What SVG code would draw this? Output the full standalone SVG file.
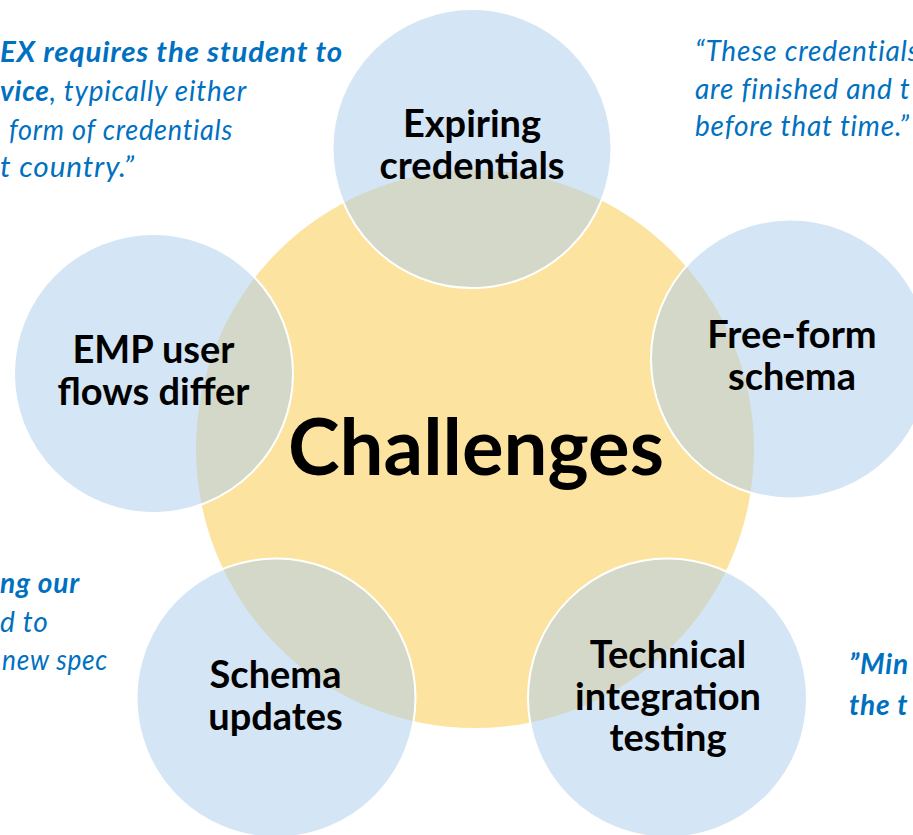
<svg xmlns="http://www.w3.org/2000/svg" width="913" height="835" viewBox="0 0 913 835">
<style>
.q{font-family:Lato,"Liberation Sans",sans-serif;font-style:italic;font-size:28px;fill:#0070c0;letter-spacing:0.8px}
.b{font-weight:bold}
.hub{fill:#fce4a0}
.sat{fill:#aeceec;fill-opacity:0.53;stroke:#ffffff;stroke-width:2}
.lbl{font-family:Lato,"Liberation Sans",sans-serif;font-weight:bold;font-size:38px;fill:#000;text-anchor:middle}
.title{font-family:Lato,"Liberation Sans",sans-serif;font-weight:bold;font-size:78px;fill:#000;text-anchor:middle}
</style>
<rect width="913" height="835" fill="#ffffff"/>
<g id="quotes">
<text class="q b" x="0" y="62" textLength="343" lengthAdjust="spacingAndGlyphs">EX requires the student to</text>
<text class="q" x="0" y="101" textLength="247" lengthAdjust="spacingAndGlyphs"><tspan class="b">vice</tspan>, typically either</text>
<text class="q" x="9" y="140" textLength="224" lengthAdjust="spacingAndGlyphs">form of credentials</text>
<text class="q" x="0" y="177" textLength="135" lengthAdjust="spacingAndGlyphs">t country.”</text>
<text class="q" x="695" y="61">“These credentials</text>
<text class="q" x="695" y="98.5">are finished and t</text>
<text class="q" x="695" y="136">before that time.”</text>
<text class="q b" x="0" y="593" textLength="80" lengthAdjust="spacingAndGlyphs">ng our</text>
<text class="q" x="0" y="632">d to</text>
<text class="q" x="2" y="670" textLength="106" lengthAdjust="spacingAndGlyphs">new spec</text>
<text class="q b" x="849" y="674">”Min</text>
<text class="q b" x="849" y="715">the t</text>
</g>
<g id="hub">
<circle class="hub" cx="475" cy="449" r="279"/>
<text class="title" x="476" y="475">Challenges</text>
</g>
<g id="expiring">
<circle class="sat" cx="472" cy="148.5" r="139.5"/>
<text class="lbl" x="472" y="137">Expiring</text>
<text class="lbl" x="472" y="179">credentials</text>
</g>
<g id="freeform">
<circle class="sat" cx="790.5" cy="359" r="139.5"/>
<text class="lbl" x="792" y="348">Free-form</text>
<text class="lbl" x="792" y="390">schema</text>
</g>
<g id="emp">
<circle class="sat" cx="153.5" cy="373.5" r="139.5"/>
<text class="lbl" x="153.5" y="363">EMP user</text>
<text class="lbl" x="153.5" y="405">flows differ</text>
</g>
<g id="schema">
<circle class="sat" cx="276" cy="698" r="139.5"/>
<text class="lbl" x="275.5" y="688">Schema</text>
<text class="lbl" x="275.5" y="730">updates</text>
</g>
<g id="technical">
<circle class="sat" cx="667.5" cy="698" r="139.5"/>
<text class="lbl" x="668" y="668">Technical</text>
<text class="lbl" x="668" y="710">integration</text>
<text class="lbl" x="668" y="751">testing</text>
</g>
<g id="connectors"></g>
</svg>
